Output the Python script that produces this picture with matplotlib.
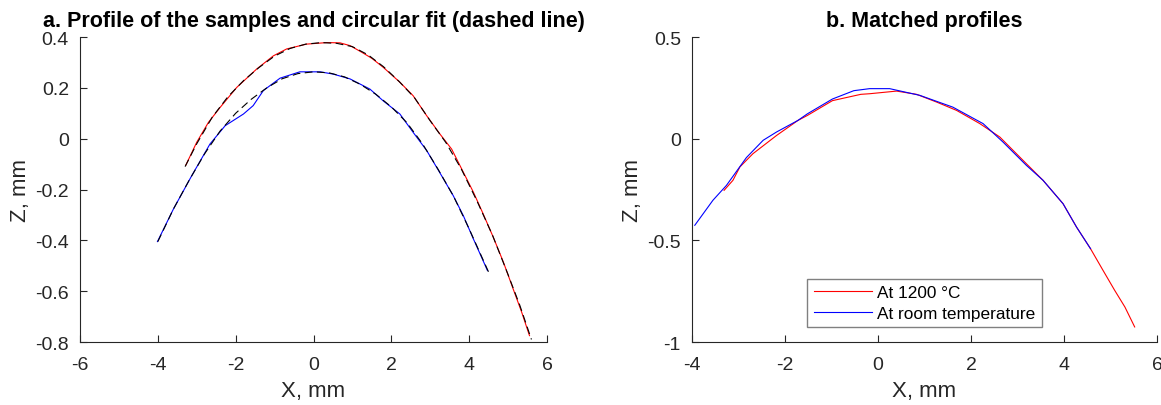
import matplotlib.pyplot as plt

plt.rcParams['font.family'] = ['Liberation Sans', 'DejaVu Sans']

# panel a: measured profiles (x, z in mm)
hot_x = [-3.28, -3.00, -2.70, -2.40, -1.97, -1.46, -1.03, -0.69, -0.18, 0.34, 0.68, 0.94,
         1.24, 1.50, 1.79, 2.22, 2.56, 2.91, 3.25, 3.55, 3.85, 4.11, 4.36, 4.62, 4.88,
         5.13, 5.35, 5.55]
hot_z = [-0.104, -0.014, 0.064, 0.123, 0.202, 0.274, 0.326, 0.353, 0.372, 0.378, 0.377,
         0.366, 0.340, 0.316, 0.281, 0.222, 0.169, 0.090, 0.018, -0.041, -0.132, -0.211,
         -0.296, -0.388, -0.486, -0.591, -0.683, -0.775]
room_x = [-4.01, -3.60, -3.13, -2.66, -2.27, -1.80, -1.55, -1.29, -0.86, -0.35, 0.17, 0.51,
          0.94, 1.45, 1.79, 2.22, 2.56, 2.91, 3.25, 3.59, 3.85, 4.11, 4.32, 4.47]
room_z = [-0.405, -0.277, -0.146, -0.021, 0.051, 0.097, 0.130, 0.189, 0.238, 0.263, 0.263,
          0.254, 0.235, 0.195, 0.149, 0.097, 0.025, -0.047, -0.135, -0.224, -0.303, -0.395,
          -0.467, -0.519]

# panel a: circular fits (dashed)
hot_fit_x = [-3.3, -3.0, -2.6, -2.2, -1.8, -1.4, -1.0, -0.6, -0.2, 0.2, 0.6, 1.0, 1.4,
             1.8, 2.2, 2.6, 3.0, 3.4, 3.8, 4.2, 4.6, 5.0, 5.3, 5.6]
hot_fit_z = [-0.11, -0.02, 0.085, 0.165, 0.228, 0.28, 0.325, 0.355, 0.372, 0.378, 0.375,
             0.362, 0.330, 0.283, 0.225, 0.160, 0.070, -0.015, -0.12, -0.245, -0.38,
             -0.535, -0.655, -0.79]
room_fit_x = [-4.0, -3.6, -3.2, -2.8, -2.4, -2.0, -1.6, -1.2, -0.8, -0.4, 0.0, 0.4, 0.8,
              1.2, 1.6, 2.0, 2.4, 2.8, 3.2, 3.6, 4.0, 4.5]
room_fit_z = [-0.405, -0.277, -0.165, -0.06, 0.03, 0.10, 0.155, 0.20, 0.236, 0.256, 0.263,
              0.259, 0.243, 0.214, 0.175, 0.125, 0.063, -0.02, -0.12, -0.227, -0.355, -0.525]

# panel b: matched profiles
m_hot_x = [-3.31, -3.12, -2.97, -2.69, -2.18, -1.72, -1.52, -0.98, -0.37, -0.18, 0.40,
           0.83, 1.26, 1.69, 2.19, 2.62, 3.19, 3.55, 3.98, 4.27, 4.57, 4.84, 5.09, 5.31, 5.52]
m_hot_z = [-0.254, -0.205, -0.139, -0.074, 0.016, 0.090, 0.114, 0.187, 0.218, 0.221, 0.234,
           0.218, 0.180, 0.139, 0.074, 0.008, -0.123, -0.205, -0.320, -0.435, -0.541,
           -0.648, -0.746, -0.828, -0.926]
m_room_x = [-3.94, -3.55, -3.26, -2.83, -2.47, -2.18, -1.72, -1.52, -0.98, -0.52, -0.18,
            0.25, 0.90, 1.61, 2.26, 2.69, 3.19, 3.55, 3.98, 4.27, 4.57]
m_room_z = [-0.426, -0.303, -0.230, -0.093, -0.008, 0.033, 0.090, 0.122, 0.195, 0.236, 0.246,
            0.246, 0.213, 0.155, 0.074, -0.017, -0.131, -0.205, -0.320, -0.435, -0.541]

labels = ['At 1200 °C', 'At room temperature']
gray = '#262626'

W, H = 1161, 406
fig = plt.figure(figsize=(W / 100, H / 100), dpi=100)
ax1 = fig.add_axes([80 / W, (H - 343) / H, 467 / W, 305 / H])
ax2 = fig.add_axes([692 / W, (H - 343) / H, 465 / W, 305 / H])

lw = 0.8
dash = (0, (7, 4))
ax1.plot(hot_x, hot_z, color='red', lw=lw)
ax1.plot(room_x, room_z, color='blue', lw=lw)
ax1.plot(hot_fit_x, hot_fit_z, color='black', lw=lw, linestyle=dash)
ax1.plot(room_fit_x, room_fit_z, color='black', lw=lw, linestyle=dash)
ax1.set_xlim(-6, 6)
ax1.set_ylim(-0.8, 0.4)
ax1.set_xticks([-6, -4, -2, 0, 2, 4, 6])
ax1.set_xticklabels(['-6', '-4', '-2', '0', '2', '4', '6'])
ax1.set_yticks([-0.8, -0.6, -0.4, -0.2, 0, 0.2, 0.4])
ax1.set_yticklabels(['-0.8', '-0.6', '-0.4', '-0.2', '0', '0.2', '0.4'])
ax1.set_title('a. Profile of the samples and circular fit (dashed line)',
              fontsize=15.5, fontweight='bold', pad=8)

ax2.plot(m_hot_x, m_hot_z, color='red', lw=lw, label=labels[0])
ax2.plot(m_room_x, m_room_z, color='blue', lw=lw, label=labels[1])
ax2.set_xlim(-4, 6)
ax2.set_ylim(-1, 0.5)
ax2.set_xticks([-4, -2, 0, 2, 4, 6])
ax2.set_xticklabels(['-4', '-2', '0', '2', '4', '6'])
ax2.set_yticks([-1, -0.5, 0, 0.5])
ax2.set_yticklabels(['-1', '-0.5', '0', '0.5'])
ax2.set_title('b. Matched profiles', fontsize=15.5, fontweight='bold', pad=8)
leg = ax2.legend(loc='lower center', bbox_to_anchor=(0.5, 0.049), fontsize=12.4,
                 fancybox=False, framealpha=1, edgecolor='#808080', handlelength=3.4,
                 borderpad=0.35, labelspacing=0.35, handletextpad=0.3, borderaxespad=0)
leg.get_frame().set_linewidth(1.0)

for ax in (ax1, ax2):
    ax.spines['top'].set_visible(False)
    ax.spines['right'].set_visible(False)
    for s in ('left', 'bottom'):
        ax.spines[s].set_color(gray)
        ax.spines[s].set_linewidth(0.8)
    ax.tick_params(direction='in', length=5, width=0.8, colors=gray, labelsize=14)
    ax.tick_params(axis='x', pad=10)
    ax.tick_params(axis='y', pad=8)
    ax.set_xlabel('X, mm', fontsize=16, color=gray, labelpad=5)
    ax.set_ylabel('Z, mm', fontsize=16, color=gray, labelpad=3)

fig.savefig('out.png', dpi=100)
